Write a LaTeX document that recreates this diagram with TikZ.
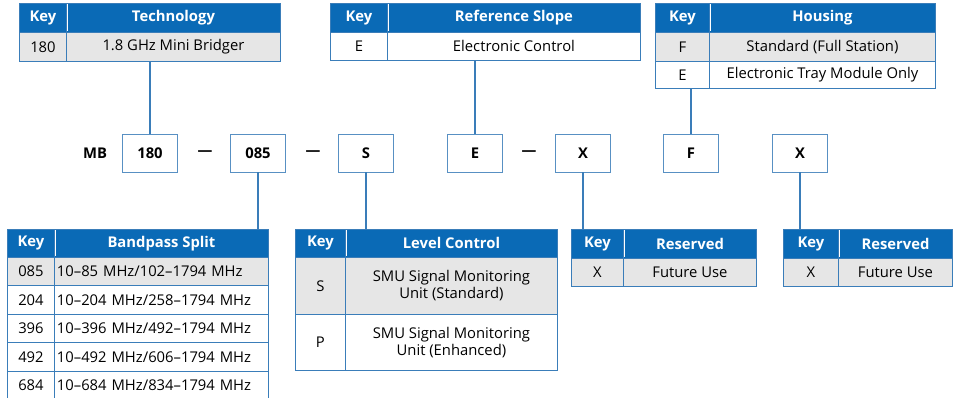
\documentclass[tikz,border=0pt]{standalone}
\usepackage{fontspec}
\setmainfont{Open Sans}
\usepackage{tikz}
\usetikzlibrary{positioning}

\definecolor{hblue}{HTML}{0A6AB6}
\definecolor{tblue}{HTML}{3A7DB9}
\definecolor{rgray}{HTML}{E6E6E6}

\begin{document}
\begin{tikzpicture}
[x=1pt,y=-1pt]
\tikzset{
	cell/.style = {rectangle, draw=tblue, line width=0.9pt, inner sep=0pt, anchor=north west, font=\fontsize{14.8}{17}\selectfont},
	hdr/.style = {cell, fill=hblue, text=white, font=\fontsize{14.8}{17}\selectfont\bfseries},
	grayrow/.style = {cell, fill=rgray},
	whiterow/.style = {cell, fill=white},
	codebox/.style = {rectangle, draw=tblue!85, line width=0.9pt, minimum width=55pt, minimum height=38pt, inner sep=0pt, font=\fontsize{14.8}{17}\selectfont\bfseries},
	codetext/.style = {font=\fontsize{14.8}{17}\selectfont\bfseries},
	conn/.style = {draw=tblue, line width=1.2pt},
	hsep/.style = {draw=white, line width=0.8pt}
}
\useasboundingbox (0,0) rectangle (954,398);

% part number
\node[codetext] (mb) at (95,153) {MB};
\node[codebox] (c180) at (150,153) {180};
\node[codebox] (c085) at (258,153) {085};
\node[codebox] (cS) at (366,153) {S};
\node[codebox] (cE) at (475,153) {E};
\node[codebox] (cX) at (583,153) {X};
\node[codebox] (cF) at (691,153) {F};
\node[codebox] (cXX) at (800,153) {X};
\node[codetext] (d1) at (205,153) {—};
\node[codetext] (d2) at (313,153) {—};
\node[codetext] (d3) at (529,153) {—};

% technology
\node[hdr, minimum width=47pt, minimum height=29pt] (t1k) at (19,3) {Key};
\node[hdr, minimum width=214pt, minimum height=29pt] (t1h) at (66,3) {Technology};
\node[grayrow, minimum width=47pt, minimum height=29pt] (t1rk) at (19,32) {180};
\node[grayrow, minimum width=214pt, minimum height=29pt] (t1r) at (66,32) {1.8 GHz Mini Bridger};

% reference slope
\node[hdr, minimum width=57pt, minimum height=29pt] (t2k) at (330,3) {Key};
\node[hdr, minimum width=253pt, minimum height=29pt] (t2h) at (387,3) {Reference Slope};
\node[whiterow, minimum width=57pt, minimum height=28pt] (t2rk) at (330,32) {E};
\node[whiterow, minimum width=253pt, minimum height=28pt] (t2r) at (387,32) {Electronic Control};

% housing
\node[hdr, minimum width=54pt, minimum height=29pt] (t3k) at (655,3) {Key};
\node[hdr, minimum width=226pt, minimum height=29pt] (t3h) at (709,3) {Housing};
\node[grayrow, minimum width=54pt, minimum height=29pt] (t3fk) at (655,32) {F};
\node[grayrow, minimum width=226pt, minimum height=29pt] (t3f) at (709,32) {Standard (Full Station)};
\node[whiterow, minimum width=54pt, minimum height=27pt] (t3ek) at (655,61) {E};
\node[whiterow, minimum width=226pt, minimum height=27pt] (t3e) at (709,61) {Electronic Tray Module Only};

% bandpass split
\node[hdr, minimum width=47pt, minimum height=28pt] (t4k) at (7,229) {Key};
\node[hdr, minimum width=214pt, minimum height=28pt] (t4h) at (54,229) {Bandpass Split};
\node[grayrow, minimum width=47pt, minimum height=28.4pt] (t4ak) at (7,257) {085};
\node[grayrow, minimum width=214pt, minimum height=28.4pt, text width=209pt, align=left] (t4a) at (54,257) {10–85 MHz/102–1794 MHz};
\node[whiterow, minimum width=47pt, minimum height=28.4pt] (t4bk) at (7,285.4) {204};
\node[whiterow, minimum width=214pt, minimum height=28.4pt, text width=209pt, align=left] (t4b) at (54,285.4) {10–204 MHz/258–1794 MHz};
\node[whiterow, minimum width=47pt, minimum height=28.4pt] (t4ck) at (7,313.8) {396};
\node[whiterow, minimum width=214pt, minimum height=28.4pt, text width=209pt, align=left] (t4c) at (54,313.8) {10–396 MHz/492–1794 MHz};
\node[whiterow, minimum width=47pt, minimum height=28.4pt] (t4dk) at (7,342.2) {492};
\node[whiterow, minimum width=214pt, minimum height=28.4pt, text width=209pt, align=left] (t4d) at (54,342.2) {10–492 MHz/606–1794 MHz};
\node[whiterow, minimum width=47pt, minimum height=28.4pt] (t4ek) at (7,370.6) {684};
\node[whiterow, minimum width=214pt, minimum height=28.4pt, text width=209pt, align=left] (t4e) at (54,370.6) {10–684 MHz/834–1794 MHz};

% level control
\node[hdr, minimum width=50pt, minimum height=28pt] (t5k) at (295,229) {Key};
\node[hdr, minimum width=212pt, minimum height=28pt] (t5h) at (345,229) {Level Control};
\node[grayrow, minimum width=50pt, minimum height=57pt] (t5sk) at (295,257) {S};
\node[grayrow, minimum width=212pt, minimum height=57pt, align=center] (t5s) at (345,257) {SMU Signal Monitoring\\Unit (Standard)};
\node[whiterow, minimum width=50pt, minimum height=56pt] (t5pk) at (295,314) {P};
\node[whiterow, minimum width=212pt, minimum height=56pt, align=center] (t5p) at (345,314) {SMU Signal Monitoring\\Unit (Enhanced)};

% reserved
\node[hdr, minimum width=52pt, minimum height=29pt] (t6k) at (571,229) {Key};
\node[hdr, minimum width=133pt, minimum height=29pt] (t6h) at (623,229) {Reserved};
\node[grayrow, minimum width=52pt, minimum height=28pt] (t6rk) at (571,258) {X};
\node[grayrow, minimum width=133pt, minimum height=28pt] (t6r) at (623,258) {Future Use};

\node[hdr, minimum width=55pt, minimum height=29pt] (t7k) at (783,229) {Key};
\node[hdr, minimum width=114pt, minimum height=29pt] (t7h) at (838,229) {Reserved};
\node[grayrow, minimum width=55pt, minimum height=28pt] (t7rk) at (783,258) {X};
\node[grayrow, minimum width=114pt, minimum height=28pt] (t7r) at (838,258) {Future Use};

% white dividers in the headers
\foreach \k in {t1k,t2k,t3k,t4k,t5k,t6k,t7k}
	\draw[hsep] ([yshift=-1.5pt]\k.north east) -- ([yshift=1.5pt]\k.south east);

% connectors
\draw[conn] (c180.north) -- (c180.north |- t1r.south);
\draw[conn] (cE.north) -- (cE.north |- t2r.south);
\draw[conn] (cF.north) -- (cF.north |- t3e.south);
\draw[conn] (c085.south) -- (c085.south |- t4h.north);
\draw[conn] (cS.south) -- (cS.south |- t5h.north);
\draw[conn] (cX.south) -- (cX.south |- t6k.north);
\draw[conn] (cXX.south) -- (cXX.south |- t7k.north);
\end{tikzpicture}
\end{document}
